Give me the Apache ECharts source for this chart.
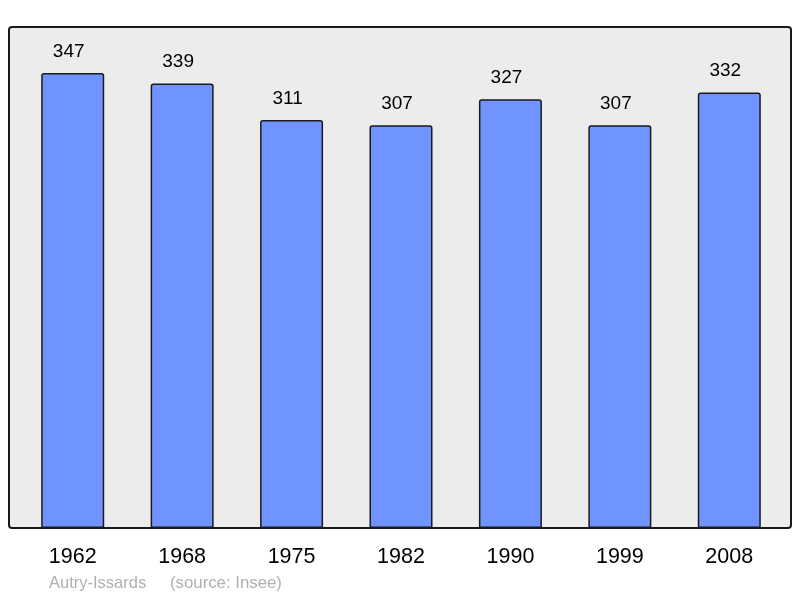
<!DOCTYPE html>
<html>
<head>
<meta charset="utf-8">
<script src="https://cdn.jsdelivr.net/npm/echarts@6/dist/echarts.min.js"></script>
<style>
  html, body { margin: 0; padding: 0; background: #fff; }
  #chart { width: 800px; height: 598px; }
</style>
</head>
<body>
<div id="chart"></div>
<script>
// Population by census year
const years = ['1962', '1968', '1975', '1982', '1990', '1999', '2008'];
const population = [347, 339, 311, 307, 327, 307, 332];
const townName = 'Autry-Issards';
const sourceText = '(source: Insee)';

const chart = echarts.init(document.getElementById('chart'));

const option = {
    animation: false,
    textStyle: { fontFamily: 'Liberation Sans, Arial, sans-serif' },
    // frame of the plot area and the footer
    graphic: [
        {
            type: 'rect',
            z: 0,
            shape: { x: 9, y: 27, width: 782, height: 501, r: 3 },
            style: { fill: '#ececec', stroke: '#1a1a1a', lineWidth: 2 }
        },
        {
            type: 'text',
            left: 49,
            top: 575,
            style: { text: townName, fill: '#b0b0b0', font: '16.5px Liberation Sans, Arial, sans-serif' }
        },
        {
            type: 'text',
            left: 170,
            top: 575,
            style: { text: sourceText, fill: '#b0b0b0', font: '16.8px Liberation Sans, Arial, sans-serif' }
        }
    ],
    grid: { left: 18, right: 16, top: 27, bottom: 70 },
    xAxis: {
        type: 'category',
        data: years,
        axisLine: { show: false },
        axisTick: { show: false },
        axisLabel: { color: '#000', fontSize: 21.5, margin: 18 }
    },
    yAxis: {
        type: 'value',
        min: 0,
        max: 382,
        show: false,
        splitLine: { show: false }
    },
    series: [{
        type: 'bar',
        data: population,
        barWidth: 63,
        itemStyle: {
            color: '#7094ff',
            borderColor: '#1a1a1a',
            borderWidth: 1.5,
            borderRadius: [2, 2, 0, 0]
        },
        label: {
            show: true,
            position: 'top',
            distance: 12,
            offset: [-4, 0],
            color: '#000',
            fontSize: 19
        }
    }]
};

chart.setOption(option);
</script>
</body>
</html>
